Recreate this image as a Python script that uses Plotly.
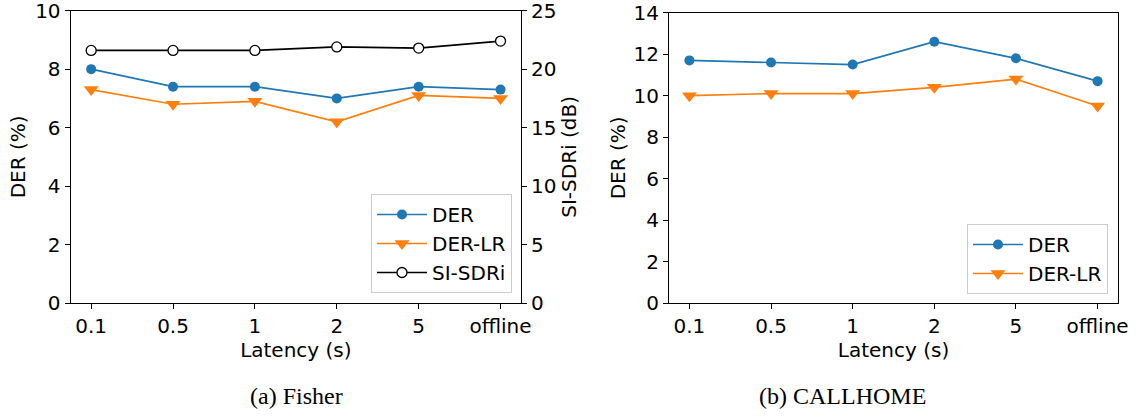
import plotly.graph_objects as go

latency = ["0.1", "0.5", "1", "2", "5", "offline"]

fisher_der = [8.0, 7.4, 7.4, 7.0, 7.4, 7.3]
fisher_der_lr = [7.3, 6.8, 6.9, 6.2, 7.1, 7.0]
fisher_sisdri = [21.6, 21.6, 21.6, 21.9, 21.8, 22.4]

callhome_der = [11.7, 11.6, 11.5, 12.6, 11.8, 10.7]
callhome_der_lr = [10.0, 10.1, 10.1, 10.4, 10.8, 9.5]

BLUE = "#1f77b4"
ORANGE = "#ff7f0e"
W, H = 1137, 416
FONT = "DejaVu Sans"
FS = 20

def px_x(v):
    return v / W

def px_y(v):
    return 1 - v / H

fig = go.Figure()

# Fisher
fig.add_trace(go.Scatter(x=latency, y=fisher_der, name="DER", mode="lines+markers",
                         line=dict(color=BLUE, width=1.7),
                         marker=dict(symbol="circle", size=10, color=BLUE),
                         xaxis="x", yaxis="y", legend="legend"))
fig.add_trace(go.Scatter(x=latency, y=fisher_der_lr, name="DER-LR", mode="lines+markers",
                         line=dict(color=ORANGE, width=1.7),
                         marker=dict(symbol="triangle-down", size=13, color=ORANGE),
                         xaxis="x", yaxis="y", legend="legend"))
fig.add_trace(go.Scatter(x=latency, y=fisher_sisdri, name="SI-SDRi", mode="lines+markers",
                         line=dict(color="black", width=1.7),
                         marker=dict(symbol="circle", size=10, color="white",
                                     line=dict(color="black", width=1.3)),
                         xaxis="x", yaxis="y2", legend="legend"))

# CALLHOME
fig.add_trace(go.Scatter(x=latency, y=callhome_der, name="DER", mode="lines+markers",
                         line=dict(color=BLUE, width=1.7),
                         marker=dict(symbol="circle", size=10, color=BLUE),
                         xaxis="x2", yaxis="y3", legend="legend2"))
fig.add_trace(go.Scatter(x=latency, y=callhome_der_lr, name="DER-LR", mode="lines+markers",
                         line=dict(color=ORANGE, width=1.7),
                         marker=dict(symbol="triangle-down", size=13, color=ORANGE),
                         xaxis="x2", yaxis="y3", legend="legend2"))

axis_common = dict(showline=True, linecolor="black", linewidth=1.2, ticks="outside",
                   ticklen=5, tickwidth=1.1, tickcolor="black", showgrid=False,
                   zeroline=False, automargin=False, ticklabeloverflow="allow",
                   tickfont=dict(family=FONT, size=FS, color="black"))

left_dom = [px_x(70.7), px_x(521)]
right_dom = [px_x(669), px_x(1118)]

fig.update_layout(
    width=W, height=H,
    margin=dict(l=0, r=0, t=0, b=0),
    paper_bgcolor="white", plot_bgcolor="white",
    font=dict(family=FONT, size=FS, color="black"),
    xaxis=dict(domain=left_dom, anchor="y", type="category", range=[-0.25, 5.25],
               mirror=True, title=dict(text="Latency (s)", standoff=3,
                                       font=dict(family=FONT, size=FS)),
               **axis_common),
    yaxis=dict(domain=[px_y(303), px_y(10.7)], anchor="x", range=[0, 10], dtick=2,
               title=dict(text="DER (%)", standoff=4, font=dict(family=FONT, size=FS)),
               **axis_common),
    yaxis2=dict(overlaying="y", side="right", anchor="x", range=[0, 25], dtick=5,
                title=dict(text="SI-SDRi (dB)", standoff=5, font=dict(family=FONT, size=FS)),
                **axis_common),
    xaxis2=dict(domain=right_dom, anchor="y3", type="category", range=[-0.25, 5.25],
                mirror=True, title=dict(text="Latency (s)", standoff=3,
                                        font=dict(family=FONT, size=FS)),
                **axis_common),
    yaxis3=dict(domain=[px_y(303), px_y(12.7)], anchor="x2", range=[0, 14], dtick=2,
                mirror=True,
                title=dict(text="DER (%)", standoff=2, font=dict(family=FONT, size=FS)),
                **axis_common),
    legend=dict(x=px_x(512), y=px_y(293), xanchor="right", yanchor="bottom",
                bgcolor="rgba(255,255,255,0.8)", bordercolor="#cccccc", borderwidth=1,
                itemwidth=50,
                font=dict(family=FONT, size=FS, color="black")),
    legend2=dict(x=px_x(1108), y=px_y(294), xanchor="right", yanchor="bottom",
                 bgcolor="rgba(255,255,255,0.8)", bordercolor="#cccccc", borderwidth=1,
                 itemwidth=50,
                 font=dict(family=FONT, size=FS, color="black")),
    annotations=[
        dict(text="(a) Fisher", x=px_x(296), y=px_y(396), xref="paper", yref="paper",
             showarrow=False, xanchor="center", yanchor="middle",
             font=dict(family="Liberation Serif", size=24, color="black")),
        dict(text="(b) CALLHOME", x=px_x(842), y=px_y(396), xref="paper", yref="paper",
             showarrow=False, xanchor="center", yanchor="middle",
             font=dict(family="Liberation Serif", size=24, color="black")),
    ],
)

fig.write_html("out.html", config={"displayModeBar": False},
               post_script="document.body.style.margin='0px';")
